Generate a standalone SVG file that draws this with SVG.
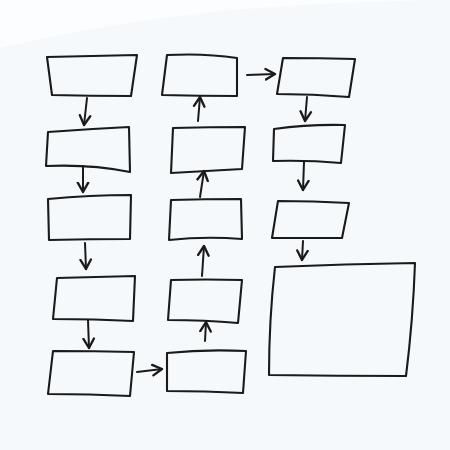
<svg xmlns="http://www.w3.org/2000/svg" width="450" height="450" viewBox="0 0 450 450">
  <defs>
    <style>
      .box { fill: none; stroke: #1a1a1a; stroke-width: 2.1; stroke-linejoin: round; stroke-linecap: round; }
      .edge { fill: none; stroke: #1a1a1a; stroke-width: 2; stroke-linecap: round; marker-end: url(#head); }
    </style>
    <marker id="head" markerUnits="userSpaceOnUse" markerWidth="14" markerHeight="14" refX="9" refY="5" orient="auto" viewBox="0 0 12 10">
      <path d="M1,0.5 L9,5 L1,9.5" fill="none" stroke="#1a1a1a" stroke-width="2" stroke-linecap="round" stroke-linejoin="round"/>
    </marker>
  </defs>
  <rect x="0" y="0" width="450" height="450" fill="#f5f9fb"/>
  <path d="M0,0 L430,0 Q330,2 230,10 Q110,22 0,48 Z" fill="#fcfdfe"/>

  <g id="n1"><path class="box" d="M47,57 Q90,56 137,55 L131,96 Q90,96 52,95 Z"/></g>
  <g id="n2"><path class="box" d="M48,132 Q88,129 129,127 L130,172 Q90,164 46,166 Z"/></g>
  <g id="n3"><path class="box" d="M48,199 Q90,195 131,195 L130,239 Q90,239 49,240 Z"/></g>
  <g id="n4"><path class="box" d="M57,278 Q95,277 135,276 L133,321 Q95,319 53,319 Z"/></g>
  <g id="n5"><path class="box" d="M53,351 Q95,351 134,352 L130,396 Q90,394 48,394 Z"/></g>

  <g id="n6"><path class="box" d="M167,55 Q205,53 237,58 L237,96 Q200,96 162,95 Z"/></g>
  <g id="n7"><path class="box" d="M173,128 Q210,127 245,127 L242,169 Q205,171 171,173 Z"/></g>
  <g id="n8"><path class="box" d="M171,200 Q205,199 241,199 L242,239 Q205,236 169,240 Z"/></g>
  <g id="n9"><path class="box" d="M171,280 Q205,279 242,280 L238,323 Q205,320 168,320 Z"/></g>
  <g id="n10"><path class="box" d="M167,353 Q205,349 246,351 L243,393 Q205,391 167,391 Z"/></g>

  <g id="n11"><path class="box" d="M283,58 Q320,58 355,59 L349,97 Q313,94 277,94 Z"/></g>
  <g id="n12"><path class="box" d="M274,129 Q310,124 345,125 L341,163 Q308,160 273,161 Z"/></g>
  <g id="n13"><path class="box" d="M278,201 Q313,201 349,203 L342,238 Q307,238 272,238 Z"/></g>
  <g id="n14"><path class="box" d="M275,267 Q345,264 415,263 Q413,320 406,376 Q338,376 269,375 Q269,320 275,267 Z"/></g>

  <g id="connectors">
    <path class="edge" d="M87,98 L84,125"/>
    <path class="edge" d="M83,166 L83,192"/>
    <path class="edge" d="M85,243 L86,269"/>
    <path class="edge" d="M88,320 L89,348"/>
    <path class="edge" d="M137,372 L162,369"/>
    <path class="edge" d="M205,341 L206,322"/>
    <path class="edge" d="M202,276 L204,246"/>
    <path class="edge" d="M200,197 L204,171"/>
    <path class="edge" d="M198,121 L200,97"/>
    <path class="edge" d="M247,75 L275,74"/>
    <path class="edge" d="M307,97 L305,121"/>
    <path class="edge" d="M304,162 L303,190"/>
    <path class="edge" d="M303,241 L302,260"/>
  </g>
</svg>
